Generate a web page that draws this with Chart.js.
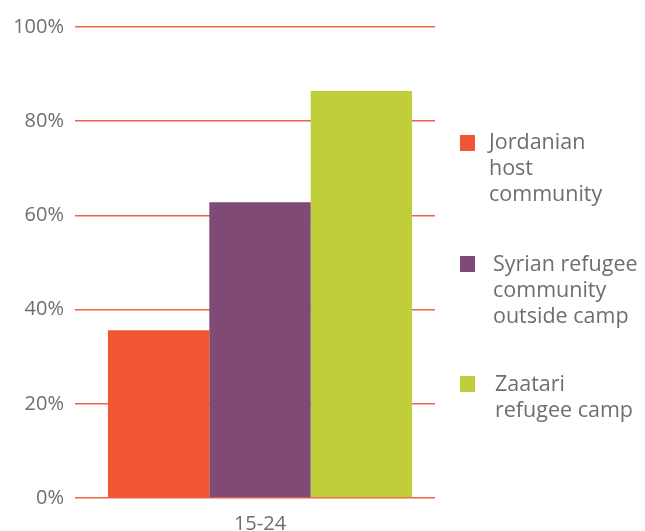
<!DOCTYPE html>
<html>
<head>
<meta charset="utf-8">
<script src="https://cdn.jsdelivr.net/npm/chart.js@4"></script>
<style>
  html, body { margin: 0; padding: 0; background: #fff; }
  #wrap { width: 645px; height: 531px; }
</style>
</head>
<body>
<div id="wrap"><canvas id="myChart" width="645" height="531"></canvas></div>
<script>
var ageGroups = ['15-24'];
var seriesNames = [
    ['Jordanian', 'host', 'community'],
    ['Syrian refugee', 'community', 'outside camp'],
    ['Zaatari', 'refugee camp']
];
var jordanian = [35.6];
var syrianOutside = [62.8];
var zaatari = [86.4];
var yTicks = [0, 20, 40, 60, 80, 100];

var colors = ['#f05633', '#7f4a75', '#c0ce3a'];
var textColor = '#6e6e6e';
var gridColor = '#f06246';
var fontFamily = '"Open Sans", Roboto, sans-serif';

// legend on the right, drawn straight onto the canvas
var sideLegend = {
    id: 'sideLegend',
    afterDraw: function(chart) {
        var c = chart.ctx;
        var rows = [
            { box: [460, 135], text: [489, 143] },
            { box: [460, 256], text: [493, 265] },
            { box: [460, 376], text: [495, 385] }
        ];
        c.save();
        c.font = '400 21.5px ' + fontFamily;
        c.textBaseline = 'middle';
        c.textAlign = 'left';
        chart.data.datasets.forEach(function(ds, i) {
            var r = rows[i];
            c.fillStyle = ds.backgroundColor;
            c.fillRect(r.box[0], r.box[1], 15, 16);
            c.fillStyle = textColor;
            seriesNames[i].forEach(function(line, j) {
                c.fillText(line, r.text[0], r.text[1] + j * 26);
            });
        });
        c.restore();
    }
};

var ctx = document.getElementById('myChart').getContext('2d');
var chart = new Chart(ctx, {
    type: 'bar',
    data: {
        labels: ageGroups,
        datasets: [
            { label: seriesNames[0].join(' '), data: jordanian, backgroundColor: colors[0] },
            { label: seriesNames[1].join(' '), data: syrianOutside, backgroundColor: colors[1] },
            { label: seriesNames[2].join(' '), data: zaatari, backgroundColor: colors[2] }
        ]
    },
    options: {
        responsive: false,
        animation: false,
        layout: { padding: { top: 27, right: 210, bottom: 0, left: 0 } },
        datasets: {
            bar: { barPercentage: 1, categoryPercentage: 0.869 }
        },
        plugins: {
            legend: { display: false },
            tooltip: { enabled: false }
        },
        scales: {
            x: {
                grid: { display: false },
                border: { display: false },
                ticks: { color: textColor, font: { family: fontFamily, size: 20 }, padding: 6 },
                afterFit: function(scale) { scale.height = 33; }
            },
            y: {
                min: 0,
                max: 100,
                afterBuildTicks: function(scale) {
                    scale.ticks = yTicks.map(function(v) { return { value: v }; });
                },
                grid: { color: gridColor, tickColor: gridColor, lineWidth: 1.5, drawTicks: true, tickLength: 10 },
                border: { display: false },
                ticks: {
                    color: textColor,
                    font: { family: fontFamily, size: 20 },
                    padding: 11,
                    callback: function(v) { return v + '%'; }
                },
                afterFit: function(scale) { scale.width = 85; }
            }
        }
    },
    plugins: [sideLegend]
});
</script>
</body>
</html>
